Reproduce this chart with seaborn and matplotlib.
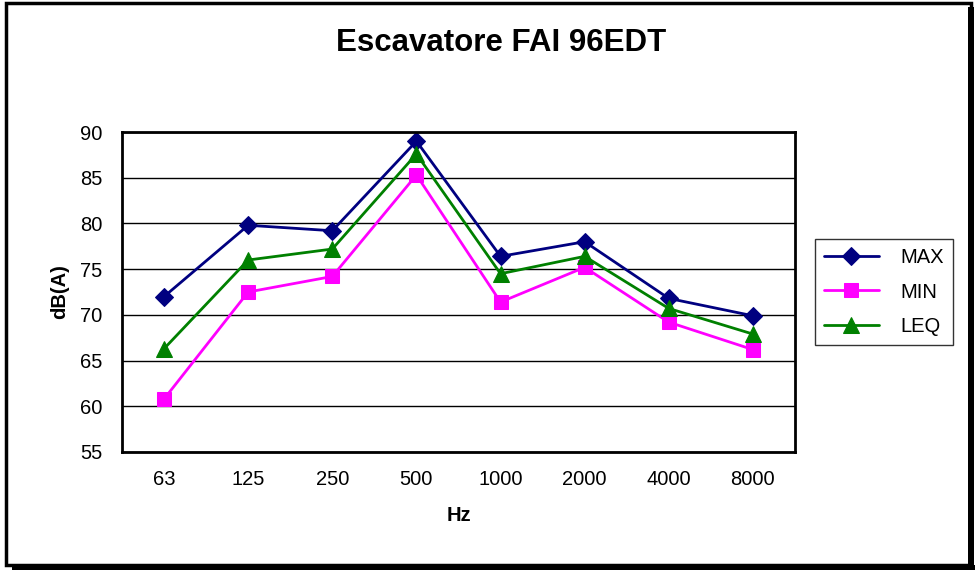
import matplotlib
matplotlib.use("Agg")
import matplotlib.pyplot as plt
import seaborn as sns
from matplotlib.patches import Rectangle

# dati
hz = ["63", "125", "250", "500", "1000", "2000", "4000", "8000"]
val_max = [72.0, 79.8, 79.2, 89.0, 76.4, 78.0, 71.8, 69.9]
val_min = [60.8, 72.5, 74.2, 85.3, 71.4, 75.2, 69.2, 66.2]
val_leq = [66.3, 76.0, 77.2, 87.6, 74.5, 76.4, 70.7, 67.9]

sns.set_style("white")
plt.rcParams['font.family'] = ['Liberation Sans', 'DejaVu Sans']
plt.rcParams['text.color'] = 'black'
plt.rcParams['axes.labelcolor'] = 'black'
plt.rcParams['xtick.color'] = 'black'
plt.rcParams['ytick.color'] = 'black'

fig = plt.figure(figsize=(9.76, 5.72), dpi=100)
ax = fig.add_axes([0.125, 0.2098, 0.6895, 0.5594])

series = [
    ("MAX", val_max, "#000080", "D", 9),
    ("MIN", val_min, "#FF00FF", "s", 10),
    ("LEQ", val_leq, "#008000", "^", 11),
]
for name, vals, col, mk, ms in series:
    sns.lineplot(x=hz, y=vals, ax=ax, color=col, marker=mk, markersize=ms,
                 markeredgecolor=col, linewidth=2, label=name, sort=False)

fs = 14.5
ax.set_ylim(55, 90)
ax.set_yticks(range(55, 91, 5))
ax.set_xlim(-0.5, len(hz) - 0.5)
ax.set_xticks(range(len(hz)))
ax.set_xticks([i - 0.5 for i in range(len(hz) + 1)], minor=True)
ax.tick_params(axis="x", which="major", length=0, labelsize=fs, pad=13)
ax.tick_params(axis="x", which="minor", length=6, width=1.2, direction="out")
ax.tick_params(axis="y", length=6, width=1.2, direction="out", labelsize=fs, pad=8)
ax.grid(axis="y", color="black", linewidth=1)
ax.set_axisbelow(True)
for s in ax.spines.values():
    s.set_color("black")
    s.set_linewidth(2)

ax.set_xlabel("Hz", fontsize=fs, fontweight="bold", labelpad=12)
ax.set_ylabel("dB(A)", fontsize=fs, fontweight="bold", labelpad=8)
fig.text(0.513, 0.924, "Escavatore FAI 96EDT", ha="center", va="center",
         fontsize=22.5, fontweight="bold")

leg = ax.legend(loc="center left", bbox_to_anchor=(1.03, 0.5), frameon=True,
                fancybox=False, edgecolor="black", fontsize=fs, handlelength=2.7,
                borderpad=0.45, labelspacing=0.75, handletextpad=1.1,
                borderaxespad=0)
leg.get_frame().set_linewidth(1)

# cornice esterna con ombra
fig.patches.append(Rectangle((0.006, 0.012), 0.989, 0.983, transform=fig.transFigure,
                             fill=False, edgecolor="black", linewidth=2.5))
fig.patches.append(Rectangle((0.012, 0.004), 0.987, 0.008, transform=fig.transFigure,
                             facecolor="black", edgecolor="none"))
fig.patches.append(Rectangle((0.992, 0.004), 0.006, 0.983, transform=fig.transFigure,
                             facecolor="black", edgecolor="none"))

fig.savefig("out.png", dpi=100)
